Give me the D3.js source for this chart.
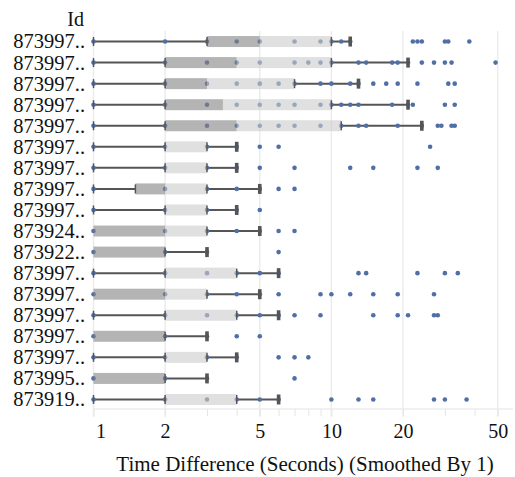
<!DOCTYPE html>
<html>
<head>
<meta charset="utf-8">
<script src="https://cdn.jsdelivr.net/npm/d3@7/dist/d3.min.js"></script>
<style>
  html, body { margin: 0; padding: 0; background: #fff; }
  svg { display: block; }
</style>
</head>
<body>
<svg id="chart" width="515" height="477"></svg>
<script>
// ---- data ----
const ids = ["873997..","873997..","873997..","873997..","873997..","873997..","873997..","873997..","873997..",
             "873924..","873922..","873997..","873997..","873997..","873997..","873997..","873995..","873919.."];
const lowerWhisker = [1,1,1,1,1,1,1,1,1,1,1,1,1,1,1,1,1,1];
const q1           = [3,2,2,2,2,2,2,1.5,2,1,1,2,1,2,1,2,1,2];
const median       = [5,4,3,3.5,4,2,2,2,2,2,2,2,2,2,2,2,2,2];
const q3           = [10,10,7,10,11,3,3,3,3,3,2,4,3,4,2,3,2,4];
const upperWhisker = [12,21,13,21,24,4,4,5,4,5,3,6,5,6,3,4,3,6];
const points = [
  [1,2,3,4,5,7,9,10,11,12,22,23,24,30,31,38],
  [1,2,3,4,5,7,8,9,10,13,14,18,19,21,24,27,30,32,49],
  [1,2,3,4,5,6,7,9,10,12,13,15,17,19,23,31,33],
  [1,2,3,4,5,6,7,9,10,11,12,13,18,21,22,30,33],
  [1,2,3,4,5,6,7,9,11,13,14,19,24,28,29,32,33],
  [1,2,3,4,5,6,26],
  [1,2,3,4,5,7,12,15,23,28],
  [1,2,3,4,5,6,7],
  [1,2,3,4,5],
  [1,2,3,4,5,6,7],
  [1,2,3,6],
  [1,2,3,4,5,6,13,14,23,30,34],
  [1,2,3,4,5,6,9,10,12,15,19,27],
  [1,2,3,4,5,6,7,9,15,19,21,27,28],
  [1,2,3,4,5],
  [1,2,3,4,6,7,8],
  [1,2,3,7],
  [1,2,3,4,5,6,10,13,15,27,30,37]
];
const majorTicks = [1,2,5,10,20,50];
const minorTicks = [3,4,6,7,8,9,30,40];
const xTitle = "Time Difference (Seconds) (Smoothed By 1)";
const yTitle = "Id";

const FONT = '"Liberation Serif", "Tinos", "Times New Roman", "DejaVu Serif", serif';

// ---- layout ----
const svg = d3.select("#chart");
const plotTop = 31, plotBottom = 410;
const x = d3.scaleLog().domain([1, 58]).range([93.5, 513]);
const y = d3.scaleBand().domain(d3.range(ids.length)).range([plotTop, plotBottom]);
const cy = i => y(i) + y.bandwidth() / 2;
const boxH = 11;
const whiskerColor = "#555";
const dotColor = "#4f6fa6";

// gridlines
svg.append("g").selectAll("line").data(majorTicks).join("line")
  .attr("x1", d => x(d)).attr("x2", d => x(d))
  .attr("y1", plotTop).attr("y2", 417)
  .attr("stroke", "#ececec").attr("stroke-width", 1.5);

// bottom axis
const axisY = 409;
const axis = d3.axisBottom(x).tickValues(majorTicks.concat(minorTicks)).tickSize(7)
  .tickFormat(d => majorTicks.includes(d) ? d3.format("d")(d) : "");
const ag = svg.append("g").attr("transform", `translate(0,${axisY})`).call(axis)
  .attr("font-family", null).attr("font-size", null);
ag.select(".domain").attr("stroke", "#ececec").attr("stroke-width", 1.5)
  .attr("d", `M${x(1)},0H513`);
ag.selectAll(".tick line").attr("stroke", "#e6e6e6");
ag.selectAll(".tick text")
  .attr("y", 15)
  .style("font-family", FONT)
  .style("font-size", "20px").attr("fill", "#111")
  .attr("dx", d => d === 1 ? 7 : 0);

svg.append("text").attr("x", 305).attr("y", 471).attr("text-anchor", "middle")
  .style("font-family", FONT).style("font-size", "21px").attr("fill", "#111").text(xTitle);

// y labels
svg.append("text").attr("x", 84).attr("y", 26).attr("text-anchor", "end")
  .style("font-family", FONT).style("font-size", "20px").attr("fill", "#111").text(yTitle);
svg.append("g").selectAll("text").data(ids).join("text")
  .attr("x", 85).attr("y", (d, i) => cy(i)).attr("dy", "0.34em")
  .attr("text-anchor", "end")
  .style("font-family", FONT).style("font-size", "20.5px").attr("fill", "#111").text(d => d);

const rows = d3.range(ids.length);

// whisker lines
const wg = svg.append("g");
rows.forEach(i => {
  if (lowerWhisker[i] < q1[i]) {
    wg.append("line").attr("x1", x(lowerWhisker[i])).attr("x2", x(q1[i]))
      .attr("y1", cy(i)).attr("y2", cy(i)).attr("stroke", whiskerColor).attr("stroke-width", 2);
  }
  if (upperWhisker[i] > q3[i]) {
    wg.append("line").attr("x1", x(q3[i])).attr("x2", x(upperWhisker[i]))
      .attr("y1", cy(i)).attr("y2", cy(i)).attr("stroke", whiskerColor).attr("stroke-width", 2);
  }
});

// dots
const dg = svg.append("g");
rows.forEach(i => {
  dg.selectAll(null).data(points[i]).join("circle")
    .attr("cx", d => x(d)).attr("cy", cy(i)).attr("r", 2.3).attr("fill", dotColor);
});

// boxes
const bg = svg.append("g");
rows.forEach(i => {
  if (median[i] > q1[i]) {
    bg.append("rect").attr("x", x(q1[i])).attr("width", x(median[i]) - x(q1[i]))
      .attr("y", cy(i) - boxH / 2).attr("height", boxH)
      .attr("fill", "#828282").attr("fill-opacity", 0.6);
  }
  if (q3[i] > median[i]) {
    bg.append("rect").attr("x", x(median[i])).attr("width", x(q3[i]) - x(median[i]))
      .attr("y", cy(i) - boxH / 2).attr("height", boxH)
      .attr("fill", "#cbcbcb").attr("fill-opacity", 0.6);
  }
});

// ticks and caps
const tg = svg.append("g");
rows.forEach(i => {
  const thin = v => tg.append("line").attr("x1", x(v)).attr("x2", x(v))
    .attr("y1", cy(i) - 4.5).attr("y2", cy(i) + 4.5)
    .attr("stroke", whiskerColor).attr("stroke-width", 1.5);
  if (lowerWhisker[i] < q1[i]) { thin(lowerWhisker[i]); thin(q1[i]); }
  if (upperWhisker[i] > q3[i]) {
    thin(q3[i]);
    tg.append("rect").attr("x", x(upperWhisker[i]) - 1.8).attr("width", 3.6)
      .attr("y", cy(i) - 5).attr("height", 10).attr("fill", whiskerColor);
  }
});
</script>
</body>
</html>
